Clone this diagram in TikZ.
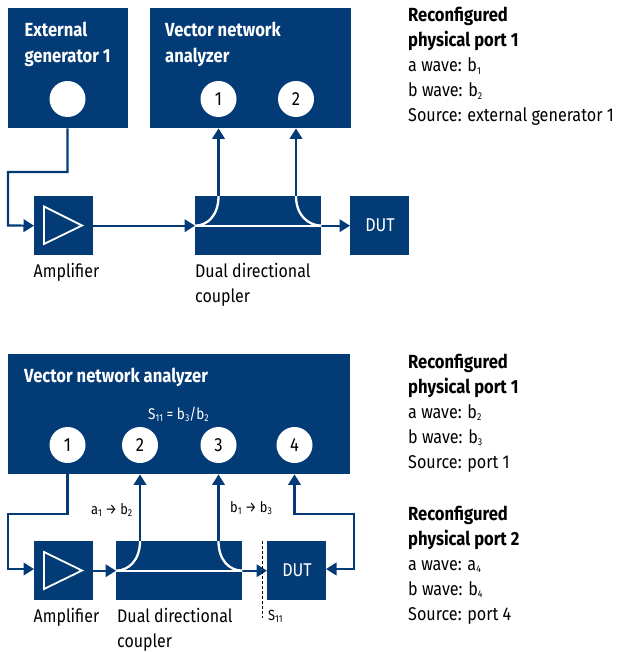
\documentclass[tikz,border=0pt]{standalone}
\usepackage{fontspec}
\setmainfont[FakeStretch=0.873]{Fira Sans}
\usetikzlibrary{arrows.meta}
\definecolor{rsblue}{HTML}{033B76}
\tikzset{
  x=1pt,y=-1pt,
  block/.style={fill=rsblue,draw=none,inner sep=0pt,anchor=north west},
  port/.style={circle,fill=white,draw=none,minimum size=36pt,inner sep=0pt,font=\fontsize{19}{19}\selectfont,text=black},
  wire/.style={draw=rsblue,line width=2.2pt},
  arrowwire/.style={wire,-{Triangle[length=10.5pt,width=12.5pt]}},
  whitewire/.style={draw=white,line width=2.3pt},
  title/.style={anchor=base west,inner sep=0pt,text=white,font=\fontsize{19}{19}\selectfont\bfseries},
  label/.style={anchor=base west,inner sep=0pt,text=black,font=\fontsize{18.3}{18.3}\selectfont},
  small/.style={anchor=base west,inner sep=0pt,text=black,font=\fontsize{14.7}{14.7}\selectfont},
  head/.style={anchor=base west,inner sep=0pt,text=black,font=\fontsize{19}{19}\selectfont\bfseries},
  info/.style={anchor=base west,inner sep=0pt,text=black,font=\fontsize{18.5}{18.5}\selectfont},
}
\newcommand{\lowidx}[1]{\raisebox{-0.3ex}{\fontsize{10}{10}\selectfont #1}}
\begin{document}
\begin{tikzpicture}
\useasboundingbox (0,0) rectangle (616,652);
% --- top diagram
\node[block,minimum width=120pt,minimum height=120pt] (ext) at (8,8) {};
\node[block,minimum width=201pt,minimum height=120pt] (vna) at (150,8) {};
\node[block,minimum width=59pt,minimum height=59pt] (amp) at (34,196) {};
\node[block,minimum width=126pt,minimum height=59pt] (cpl) at (195,196) {};
\node[block,minimum width=59pt,minimum height=59pt,text=white] (dut) at (350,196) {};
\node[text=white,font=\fontsize{18.5}{18.5}\selectfont,inner sep=0pt] (dutt) at (380,225.5) {DUT};
\node[title] (t1) at (24.5,37) {External};
\node[title] (t2) at (24.5,63) {generator 1};
\node[title] (t3) at (165,37) {Vector network};
\node[title] (t4) at (165,63) {analyzer};
\node[port] (g) at (67.5,99) {};
\node[port] (p1) at (218.5,99) {1};
\node[port] (p2) at (296,99) {2};
\coordinate (a1) at (67.5,172);
\coordinate (a2) at (8,172);
\coordinate (a3) at (8,225.5);
\draw[arrowwire] (ext.south west -| g) -- (a1) -- (a2) -- (a3) -- (amp.west);
\draw[arrowwire] (amp.east) -- (cpl.west);
\draw[arrowwire] (cpl.east) -- (dut.west);
\draw[arrowwire] (p1 |- cpl.north) -- (vna.south west -| p1);
\draw[arrowwire] (p2 |- cpl.north) -- (vna.south west -| p2);
\draw[whitewire] (cpl.west) -- (cpl.east);
\draw[whitewire] (cpl.west) .. controls (208,225.5) and (218.5,215) .. (p1 |- cpl.north);
\draw[whitewire] (cpl.east) .. controls (308,225.5) and (296,215) .. (p2 |- cpl.north);
\draw[white,line width=1.8pt,line join=miter] (44,206.5) -- (82,225.5) -- (44,244) -- cycle;
\node[label] (l1) at (33.5,277) {Amplifier};
\node[label] (l2) at (195,277) {Dual directional};
\node[label] (l3) at (195,302) {coupler};
% --- bottom diagram
\node[block,minimum width=342pt,minimum height=120pt] (vnb) at (8,354) {};
\node[block,minimum width=59pt,minimum height=59pt] (ampb) at (34,541) {};
\node[block,minimum width=126pt,minimum height=59pt] (cplb) at (116,541) {};
\node[block,minimum width=59pt,minimum height=59pt] (dutb) at (267,541) {};
\node[text=white,font=\fontsize{18.5}{18.5}\selectfont,inner sep=0pt] (dutbt) at (297,570.5) {DUT};
\node[title] (t5) at (24,382) {Vector network analyzer};
\node[anchor=base,inner sep=0pt,text=white,font=\fontsize{15.5}{15.5}\selectfont] (eq) at (178.5,419) {S\lowidx{11} = b\lowidx{3}/b\lowidx{2}};
\node[port] (q1) at (67.5,445) {1};
\node[port] (q2) at (140,445) {2};
\node[port] (q3) at (218.5,445) {3};
\node[port] (q4) at (294.5,445) {4};
\coordinate (b1) at (67.5,514);
\coordinate (b2) at (8,514);
\coordinate (b3) at (8,569);
\draw[arrowwire] (vnb.south west -| q1) -- (b1) -- (b2) -- (b3) -- (34,569);
\draw[arrowwire] (ampb.east) -- (cplb.west);
\draw[arrowwire] (cplb.east) -- (dutb.west);
\draw[arrowwire] (q2 |- cplb.north) -- (vnb.south west -| q2);
\draw[arrowwire] (q3 |- cplb.north) -- (vnb.south west -| q3);
\coordinate (c1) at (294.5,514);
\coordinate (c2) at (354,514);
\coordinate (c3) at (354,569);
\draw[wire,{Triangle[length=10.5pt,width=12.5pt]}-{Triangle[length=10.5pt,width=12.5pt]}] (326,569) -- (c3) -- (c2) -- (c1) -- (vnb.south west -| q4);
\draw[whitewire] (cplb.west) -- (cplb.east);
\draw[whitewire] (cplb.west) .. controls (129,570.5) and (140,560) .. (q2 |- cplb.north);
\draw[whitewire] (cplb.east) .. controls (229,570.5) and (218.5,560) .. (q3 |- cplb.north);
\draw[white,line width=1.8pt] (44,552) -- (82,570.5) -- (44,589) -- cycle;
\coordinate (d1) at (262,541);
\coordinate (d2) at (262,618);
\draw[black,line width=0.8pt,dash pattern=on 2.5pt off 2.5pt] (d1) -- (d2);
\node[label] (l4) at (33.5,622) {Amplifier};
\node[label] (l5) at (117,622) {Dual directional};
\node[label] (l6) at (117,647) {coupler};
\node[small] (n1) at (91,514) {a\lowidx{1} → b\lowidx{2}};
\node[small] (n2) at (230,512) {b\lowidx{1} → b\lowidx{3}};
\node[small] (n3) at (268,620) {S\lowidx{11}};
% --- right text
\node[head] (h1) at (408,22) {Reconfigured};
\node[head] (h2) at (408,47) {physical port 1};
\node[info] (i1) at (408,72) {a wave: b\lowidx{1}};
\node[info] (i2) at (408,97) {b wave: b\lowidx{2}};
\node[info] (i3) at (408,122) {Source: external generator 1};
\node[head] (h3) at (408,368) {Reconfigured};
\node[head] (h4) at (408,393) {physical port 1};
\node[info] (i4) at (408,418) {a wave: b\lowidx{2}};
\node[info] (i5) at (408,443) {b wave: b\lowidx{3}};
\node[info] (i6) at (408,468) {Source: port 1};
\node[head] (h5) at (408,520) {Reconfigured};
\node[head] (h6) at (408,545) {physical port 2};
\node[info] (i7) at (408,570) {a wave: a\lowidx{4}};
\node[info] (i8) at (408,595) {b wave: b\lowidx{4}};
\node[info] (i9) at (408,620) {Source: port 4};
\end{tikzpicture}
\end{document}
